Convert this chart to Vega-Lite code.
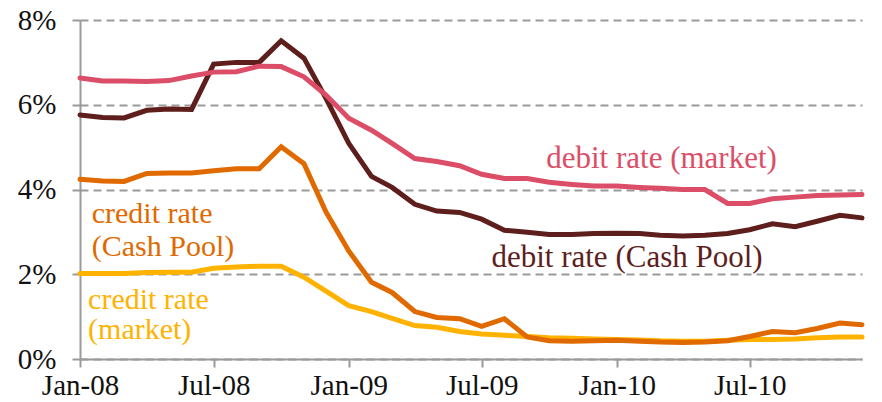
{
  "$schema": "https://vega.github.io/schema/vega-lite/v6.json",
  "width": 782,
  "height": 339,
  "autosize": {"type": "none"},
  "padding": {"left": 80, "top": 20, "right": 20, "bottom": 43},
  "background": "white",
  "config": {
    "view": {"stroke": null},
    "font": "Liberation Serif"
  },
  "datasets": {
    "rates": [
      {"date": "2008-01-01", "debit_market": 6.63, "debit_pool": 5.76, "credit_pool": 4.24, "credit_market": 2.02},
      {"date": "2008-02-01", "debit_market": 6.56, "debit_pool": 5.70, "credit_pool": 4.20, "credit_market": 2.02},
      {"date": "2008-03-01", "debit_market": 6.56, "debit_pool": 5.69, "credit_pool": 4.19, "credit_market": 2.02},
      {"date": "2008-04-01", "debit_market": 6.55, "debit_pool": 5.87, "credit_pool": 4.38, "credit_market": 2.04},
      {"date": "2008-05-01", "debit_market": 6.57, "debit_pool": 5.90, "credit_pool": 4.39, "credit_market": 2.05},
      {"date": "2008-06-01", "debit_market": 6.68, "debit_pool": 5.89, "credit_pool": 4.39, "credit_market": 2.05},
      {"date": "2008-07-01", "debit_market": 6.77, "debit_pool": 6.96, "credit_pool": 4.44, "credit_market": 2.14},
      {"date": "2008-08-01", "debit_market": 6.78, "debit_pool": 7.00, "credit_pool": 4.49, "credit_market": 2.17},
      {"date": "2008-09-01", "debit_market": 6.91, "debit_pool": 7.00, "credit_pool": 4.49, "credit_market": 2.19},
      {"date": "2008-10-01", "debit_market": 6.90, "debit_pool": 7.51, "credit_pool": 5.01, "credit_market": 2.19},
      {"date": "2008-11-01", "debit_market": 6.66, "debit_pool": 7.10, "credit_pool": 4.61, "credit_market": 1.93},
      {"date": "2008-12-01", "debit_market": 6.23, "debit_pool": 6.15, "credit_pool": 3.47, "credit_market": 1.60},
      {"date": "2009-01-01", "debit_market": 5.68, "debit_pool": 5.09, "credit_pool": 2.55, "credit_market": 1.26},
      {"date": "2009-02-01", "debit_market": 5.40, "debit_pool": 4.31, "credit_pool": 1.81, "credit_market": 1.12},
      {"date": "2009-03-01", "debit_market": 5.09, "debit_pool": 4.05, "credit_pool": 1.57, "credit_market": 0.96},
      {"date": "2009-04-01", "debit_market": 4.73, "debit_pool": 3.65, "credit_pool": 1.12, "credit_market": 0.79},
      {"date": "2009-05-01", "debit_market": 4.66, "debit_pool": 3.49, "credit_pool": 0.98, "credit_market": 0.75},
      {"date": "2009-06-01", "debit_market": 4.56, "debit_pool": 3.46, "credit_pool": 0.95, "credit_market": 0.65},
      {"date": "2009-07-01", "debit_market": 4.36, "debit_pool": 3.30, "credit_pool": 0.77, "credit_market": 0.59},
      {"date": "2009-08-01", "debit_market": 4.26, "debit_pool": 3.04, "credit_pool": 0.95, "credit_market": 0.56},
      {"date": "2009-09-01", "debit_market": 4.26, "debit_pool": 2.99, "credit_pool": 0.52, "credit_market": 0.53},
      {"date": "2009-10-01", "debit_market": 4.17, "debit_pool": 2.94, "credit_pool": 0.43, "credit_market": 0.50},
      {"date": "2009-11-01", "debit_market": 4.12, "debit_pool": 2.94, "credit_pool": 0.42, "credit_market": 0.49},
      {"date": "2009-12-01", "debit_market": 4.08, "debit_pool": 2.96, "credit_pool": 0.43, "credit_market": 0.47},
      {"date": "2010-01-01", "debit_market": 4.08, "debit_pool": 2.97, "credit_pool": 0.44, "credit_market": 0.46},
      {"date": "2010-02-01", "debit_market": 4.05, "debit_pool": 2.96, "credit_pool": 0.42, "credit_market": 0.45},
      {"date": "2010-03-01", "debit_market": 4.03, "debit_pool": 2.92, "credit_pool": 0.40, "credit_market": 0.43},
      {"date": "2010-04-01", "debit_market": 4.00, "debit_pool": 2.90, "credit_pool": 0.39, "credit_market": 0.42},
      {"date": "2010-05-01", "debit_market": 4.00, "debit_pool": 2.92, "credit_pool": 0.40, "credit_market": 0.42},
      {"date": "2010-06-01", "debit_market": 3.67, "debit_pool": 2.96, "credit_pool": 0.43, "credit_market": 0.44},
      {"date": "2010-07-01", "debit_market": 3.67, "debit_pool": 3.05, "credit_pool": 0.53, "credit_market": 0.46},
      {"date": "2010-08-01", "debit_market": 3.78, "debit_pool": 3.19, "credit_pool": 0.65, "credit_market": 0.46},
      {"date": "2010-09-01", "debit_market": 3.82, "debit_pool": 3.12, "credit_pool": 0.62, "credit_market": 0.47},
      {"date": "2010-10-01", "debit_market": 3.86, "debit_pool": 3.25, "credit_pool": 0.72, "credit_market": 0.50},
      {"date": "2010-11-01", "debit_market": 3.87, "debit_pool": 3.39, "credit_pool": 0.85, "credit_market": 0.52},
      {"date": "2010-12-01", "debit_market": 3.88, "debit_pool": 3.33, "credit_pool": 0.81, "credit_market": 0.52}
    ],
    "labels": [
      {"date": "2010-03-03", "value": 4.5, "text": "debit rate (market)", "series": "debit_market", "anchor": "center"},
      {"date": "2010-01-15", "value": 2.16, "text": "debit rate (Cash Pool)", "series": "debit_pool", "anchor": "center"},
      {"date": "2008-01-17", "value": 3.2, "text": "credit rate", "series": "credit_pool", "anchor": "left"},
      {"date": "2008-01-17", "value": 2.42, "text": "(Cash Pool)", "series": "credit_pool", "anchor": "left"},
      {"date": "2008-01-12", "value": 1.17, "text": "credit rate", "series": "credit_market", "anchor": "left"},
      {"date": "2008-01-12", "value": 0.47, "text": "(market)", "series": "credit_market", "anchor": "left"}
    ]
  },
  "layer": [
    {
      "data": {"name": "rates"},
      "transform": [
        {"fold": ["credit_market", "credit_pool", "debit_pool", "debit_market"], "as": ["series", "value"]}
      ],
      "mark": {"type": "line", "strokeWidth": 5, "strokeCap": "round"},
      "encoding": {
        "x": {
          "field": "date", "type": "temporal",
          "scale": {"type": "utc", "domain": [{"year": 2008, "month": 1, "date": 1, "utc": true}, {"year": 2010, "month": 12, "date": 1, "utc": true}]},
          "axis": {
            "title": null,
            "labelExpr": "utcFormat(datum.value, '%b-%y')",
            "values": [
              {"year": 2008, "month": 1, "date": 1, "utc": true},
              {"year": 2008, "month": 7, "date": 1, "utc": true},
              {"year": 2009, "month": 1, "date": 1, "utc": true},
              {"year": 2009, "month": 7, "date": 1, "utc": true},
              {"year": 2010, "month": 1, "date": 1, "utc": true},
              {"year": 2010, "month": 7, "date": 1, "utc": true}
            ],
            "grid": false,
            "domainColor": "#9a9a9a",
            "domainWidth": 2,
            "tickColor": "#9a9a9a",
            "tickWidth": 2,
            "tickSize": 8,
            "labelFont": "Liberation Serif",
            "labelFontSize": 29,
            "labelColor": "#111111",
            "labelPadding": 4,
            "labelFlush": false,
            "labelOverlap": false
          }
        },
        "y": {
          "field": "value", "type": "quantitative",
          "scale": {"domain": [0, 8], "nice": false},
          "axis": {
            "title": null,
            "values": [0, 2, 4, 6, 8],
            "labelExpr": "datum.value + '%'",
            "grid": true,
            "gridColor": "#9a9a9a",
            "gridDash": [8, 5],
            "gridWidth": 2,
            "domainColor": "#9a9a9a",
            "domainWidth": 2,
            "tickColor": "#9a9a9a",
            "tickWidth": 2,
            "tickSize": 8,
            "labelFont": "Liberation Serif",
            "labelFontSize": 29,
            "labelColor": "#111111",
            "labelPadding": 16
          }
        },
        "color": {
          "field": "series", "type": "nominal",
          "scale": {
            "domain": ["debit_market", "debit_pool", "credit_pool", "credit_market"],
            "range": ["#dc4e68", "#5e1e1c", "#e06a00", "#ffb300"]
          },
          "legend": null
        }
      }
    },
    {
      "data": {"name": "labels"},
      "transform": [{"filter": "datum.anchor === 'center'"}],
      "mark": {"type": "text", "align": "center", "baseline": "alphabetic", "font": "Liberation Serif", "fontSize": 31},
      "encoding": {
        "x": {"field": "date", "type": "temporal"},
        "y": {"field": "value", "type": "quantitative"},
        "text": {"field": "text"},
        "color": {"field": "series", "type": "nominal", "legend": null}
      }
    },
    {
      "data": {"name": "labels"},
      "transform": [{"filter": "datum.anchor === 'left'"}],
      "mark": {"type": "text", "align": "left", "baseline": "alphabetic", "font": "Liberation Serif", "fontSize": 30},
      "encoding": {
        "x": {"field": "date", "type": "temporal"},
        "y": {"field": "value", "type": "quantitative"},
        "text": {"field": "text"},
        "color": {"field": "series", "type": "nominal", "legend": null}
      }
    }
  ]
}
